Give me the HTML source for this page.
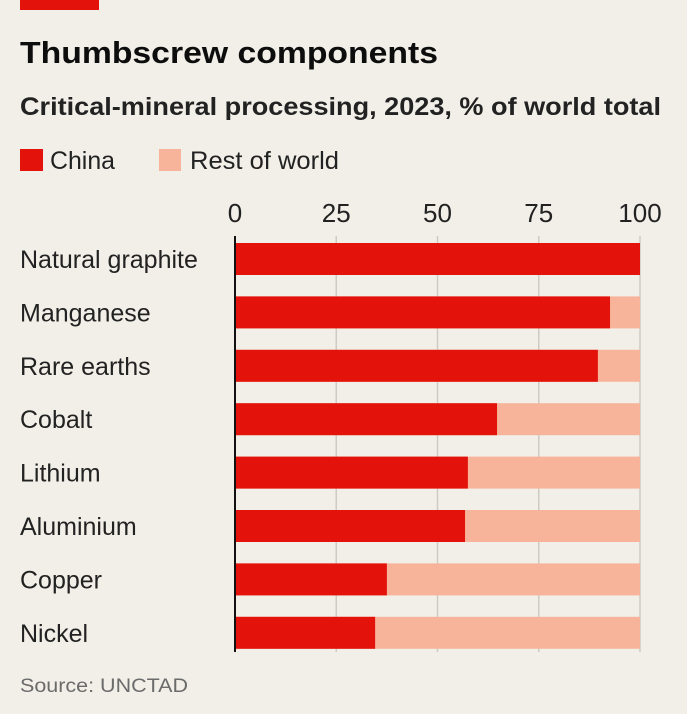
<!DOCTYPE html>
<html><head><meta charset="utf-8"><style>
html,body{margin:0;padding:0;background:#f1efe8;}
svg{display:block;font-family:"Liberation Sans",sans-serif;}
</style></head><body>
<svg id="chart" width="687" height="714" viewBox="0 0 687 714">
<rect x="0" y="0" width="687" height="714" fill="#f1efe8"/>
<rect x="20" y="0" width="79" height="10" fill="#e3120b"/>
<text x="20" y="63" font-size="31" font-weight="bold" fill="#0d0d0d" textLength="418" lengthAdjust="spacingAndGlyphs">Thumbscrew components</text>
<text x="20" y="115" font-size="25" font-weight="bold" fill="#222" textLength="641" lengthAdjust="spacingAndGlyphs">Critical-mineral processing, 2023, % of world total</text>
<g>
<rect x="20" y="149" width="23" height="22" fill="#e3120b"/>
<text x="50" y="169" font-size="25" fill="#222" textLength="65" lengthAdjust="spacingAndGlyphs">China</text>
<rect x="159" y="149" width="22" height="22" fill="#f7b49a"/>
<text x="190" y="169" font-size="25" fill="#222" textLength="149" lengthAdjust="spacingAndGlyphs">Rest of world</text>
</g>
<g id="grid"></g><g id="bars"></g><g id="labels"></g>
<text x="20" y="692" font-size="19" fill="#6b6b6b" textLength="168" lengthAdjust="spacingAndGlyphs">Source: UNCTAD</text>
</svg>
<script>
const categories=["Natural graphite","Manganese","Rare earths","Cobalt","Lithium","Aluminium","Copper","Nickel"];
const chinaValues=[100,92.6,89.6,64.7,57.5,56.8,37.5,34.6];
const totalValues=[100,100,100,100,100,100,100,100];
const tickValues=[0,25,50,75,100];
const tickLabels=["0","25","50","75","100"];
const NS="http://www.w3.org/2000/svg";
const x0=235,x1=640;
function xs(v){return x0+(x1-x0)*v/100;}
function yc(i){return 259+i*53.4;}
const bh=32;
function mk(t,a,p){const e=document.createElementNS(NS,t);for(const k in a)e.setAttribute(k,a[k]);p.appendChild(e);return e;}
const grid=document.getElementById('grid'),bars=document.getElementById('bars'),labels=document.getElementById('labels');
tickValues.forEach((v,i)=>{
 if(v>0){const l=mk('line',{x1:xs(v),x2:xs(v),y1:236,y2:652,stroke:'#cfcbc2','stroke-width':1.5},grid);
 
 }
 const t=mk('text',{x:xs(v),y:222,'font-size':26,fill:'#222','text-anchor':'middle'},grid);
 t.textContent=tickLabels[i];
 
 
});
categories.forEach((c,i)=>{
 const y=yc(i)-bh/2;
 const r=mk('rect',{x:xs(0),y:y,width:xs(totalValues[i])-xs(0),height:bh,fill:'#f7b49a'},bars);
 
 
 const b=mk('rect',{x:xs(0),y:y,width:xs(chinaValues[i])-xs(0),height:bh,fill:'#e3120b'},bars);
 
 
 const t=mk('text',{x:20,y:yc(i)+9,'font-size':25,fill:'#222'},labels);
 t.textContent=c;
 
 
});
const ax=mk('line',{x1:x0,x2:x0,y1:236,y2:652,stroke:'#111','stroke-width':2},bars);


</script>
</body></html>
